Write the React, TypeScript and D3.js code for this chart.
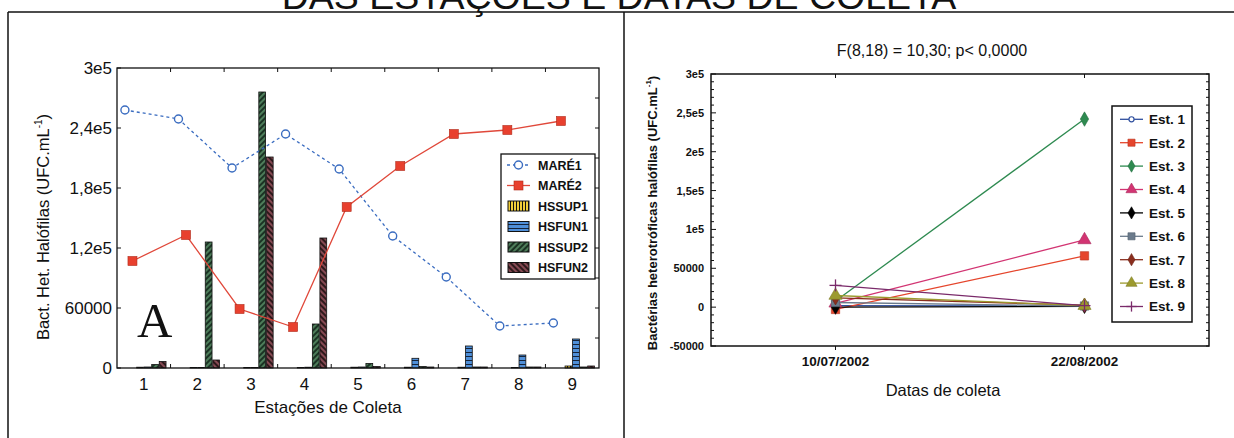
import React from 'react';
import * as d3 from 'd3';

// ---------- Left chart data ----------
const stations = ['1', '2', '3', '4', '5', '6', '7', '8', '9'];
const seriesKeys = ['MARÉ1', 'MARÉ2', 'HSSUP1', 'HSFUN1', 'HSSUP2', 'HSFUN2'];
const mare1 = [258000, 249000, 200000, 234000, 199000, 132000, 91000, 42000, 45000];
const mare2 = [107000, 133000, 59000, 41000, 161000, 202000, 234000, 238000, 247000];
const hssup1 = [800, 500, 500, 500, 800, 800, 800, 500, 2000];
const hsfun1 = [1000, 500, 500, 800, 1000, 9700, 22000, 13000, 29000];
const hssup2 = [3500, 126000, 276000, 44000, 4500, 1500, 1000, 1000, 1000];
const hsfun2 = [6500, 8000, 211000, 130000, 1500, 1000, 1000, 1000, 2000];
const leftYTicks = [0, 60000, 120000, 180000, 240000, 300000];
const leftYTickLabels = ['0', '60000', '1,2e5', '1,8e5', '2,4e5', '3e5'];

// ---------- Right chart data ----------
const dates = ['10/07/2002', '22/08/2002'];
const estNames = ['Est. 1', 'Est. 2', 'Est. 3', 'Est. 4', 'Est. 5', 'Est. 6', 'Est. 7', 'Est. 8', 'Est. 9'];
const estStart = [2000, -3000, 8000, 5000, 0, 6000, 12000, 15000, 28000];
const estEnd = [1500, 66000, 242000, 86500, 1000, 1500, 2500, 2000, 2000];
const rightYTicks = [-50000, 0, 50000, 100000, 150000, 200000, 250000, 300000];
const rightYTickLabels = ['-50000', '0', '50000', '1e5', '1,5e5', '2e5', '2,5e5', '3e5'];

const SANS = '"Liberation Sans", Arial, Helvetica, sans-serif';
const SERIF = '"Liberation Serif", "Times New Roman", serif';

const barSeries = [
  { key: 'HSSUP1', values: hssup1, fill: 'url(#pSup1)' },
  { key: 'HSFUN1', values: hsfun1, fill: 'url(#pFun1)' },
  { key: 'HSSUP2', values: hssup2, fill: 'url(#pSup2)' },
  { key: 'HSFUN2', values: hsfun2, fill: 'url(#pFun2)' },
];

const estStyles = [
  { color: '#2f4f9e', shape: 'circle' },
  { color: '#e5452c', shape: 'square' },
  { color: '#2e8a50', shape: 'diamond' },
  { color: '#d23472', shape: 'triangle' },
  { color: '#000000', shape: 'diamond' },
  { color: '#6b7b8c', shape: 'square' },
  { color: '#8a2e1e', shape: 'diamond' },
  { color: '#9c9a2e', shape: 'triangle' },
  { color: '#7a2a6a', shape: 'plus' },
];

function Marker({ x, y, shape, color, scale = 1 }: { x: number; y: number; shape: string; color: string; scale?: number }) {
  if (shape === 'plus') {
    const s = 6 * scale;
    return (
      <g stroke={color} strokeWidth={1.3}>
        <line x1={x - s} x2={x + s} y1={y} y2={y} />
        <line x1={x} x2={x} y1={y - s} y2={y + s} />
      </g>
    );
  }
  if (shape === 'circle') {
    return <circle cx={x} cy={y} r={3 * scale} fill="white" stroke={color} strokeWidth={1.2} />;
  }
  const typ = shape === 'square' ? d3.symbolSquare : shape === 'diamond' ? d3.symbolDiamond : d3.symbolTriangle;
  const size = (shape === 'square' ? 70 : shape === 'diamond' ? 60 : 75) * scale * scale;
  const p = d3.symbol().type(typ).size(size)() as string;
  return <path d={p} transform={`translate(${x},${y})`} fill={color} stroke={d3.color(color)!.darker(0.6).toString()} strokeWidth={0.6} />;
}

export default function App() {
  // ----- left scales -----
  const x0 = d3.scaleBand<string>().domain(stations).range([117, 599]).padding(0);
  const x1 = d3.scaleBand<string>().domain(seriesKeys).range([0, x0.bandwidth()]).paddingInner(0.1).paddingOuter(0.6);
  const yL = d3.scaleLinear().domain([0, 300000]).range([368, 68]);
  const slotX = (st: string, key: string) => (x0(st) as number) + (x1(key) as number) + x1.bandwidth() / 2;

  const lineGen = d3.line<[number, number]>().x((d) => d[0]).y((d) => d[1]);
  const m1pts: [number, number][] = stations.map((s, i) => [slotX(s, 'MARÉ1'), yL(mare1[i])]);
  const m2pts: [number, number][] = stations.map((s, i) => [slotX(s, 'MARÉ2'), yL(mare2[i])]);

  // ----- right scales -----
  const xR = d3.scalePoint<string>().domain(dates).range([711, 1209]).padding(0.5);
  const yR = d3.scaleLinear().domain([-50000, 300000]).range([346, 74]);
  const minorR = d3.range(-50000, 300001, 10000);

  const leftLegendY = [165, 185.5, 206, 226.5, 247, 267.5];

  return (
    <svg width={1234} height={438} style={{ position: 'absolute', left: 0, top: 0, display: 'block', background: 'white' }} fontFamily={SANS}>
      <defs>
        <pattern id="pSup1" patternUnits="userSpaceOnUse" width={3} height={10}>
          <rect width={3} height={10} fill="#f2cf3a" />
          <line x1={0.5} x2={0.5} y1={0} y2={10} stroke="#111" strokeWidth={1} />
        </pattern>
        <pattern id="pFun1" patternUnits="userSpaceOnUse" width={10} height={4}>
          <rect width={10} height={4} fill="#4f8fd8" />
          <line x1={0} x2={10} y1={0.5} y2={0.5} stroke="#15233a" strokeWidth={1} />
        </pattern>
        <pattern id="pSup2" patternUnits="userSpaceOnUse" width={4} height={4} patternTransform="rotate(45)">
          <rect width={4} height={4} fill="#1b3324" />
          <line x1={1} x2={1} y1={0} y2={4} stroke="#6fae7e" strokeWidth={1.2} />
        </pattern>
        <pattern id="pFun2" patternUnits="userSpaceOnUse" width={4} height={4} patternTransform="rotate(-45)">
          <rect width={4} height={4} fill="#2e191b" />
          <line x1={1} x2={1} y1={0} y2={4} stroke="#c06a78" strokeWidth={1.2} />
        </pattern>
      </defs>

      {/* outer frame */}
      <g stroke="#111" strokeWidth={1.5}>
        <line x1={8} x2={1234} y1={12} y2={12} />
        <line x1={8} x2={8} y1={12} y2={438} />
        <line x1={624} x2={624} y1={12} y2={438} />
      </g>
      <text x={619} y={9} textAnchor="middle" fontSize={37.5} fill="#111">DAS ESTAÇÕES E DATAS DE COLETA</text>

      {/* ================= LEFT CHART ================= */}
      {stations.map((st, i) =>
        barSeries.map((b) => {
          const v = b.values[i];
          return (
            <rect
              key={st + b.key}
              x={(x0(st) as number) + (x1(b.key) as number)}
              y={yL(v)}
              width={x1.bandwidth()}
              height={yL(0) - yL(v)}
              fill={b.fill}
              stroke="#111"
              strokeWidth={0.8}
            />
          );
        })
      )}
      <path d={lineGen(m1pts) as string} fill="none" stroke="#3a6cc0" strokeWidth={1.3} strokeDasharray="3,3" />
      <path d={lineGen(m2pts) as string} fill="none" stroke="#e0483a" strokeWidth={1.3} />
      {m1pts.map((p, i) => (
        <circle key={'m1' + i} cx={p[0]} cy={p[1]} r={4} fill="white" stroke="#3a6cc0" strokeWidth={1.4} />
      ))}
      {m2pts.map((p, i) => (
        <rect key={'m2' + i} x={p[0] - 4.5} y={p[1] - 4.5} width={9} height={9} fill="#e8402e" stroke="#b02a1a" strokeWidth={0.6} />
      ))}

      <rect x={117} y={68} width={482} height={300} fill="none" stroke="#111" strokeWidth={1.3} />
      <g stroke="#111" strokeWidth={1}>
        {leftYTicks.map((t) => (
          <line key={'lyt' + t} x1={117} x2={121} y1={yL(t)} y2={yL(t)} />
        ))}
        {d3.range(30000, 300000, 30000).map((t) => (
          <line key={'ryt' + t} x1={595} x2={599} y1={yL(t)} y2={yL(t)} />
        ))}
        {stations.slice(1).map((st) => (
          <g key={'xt' + st}>
            <line x1={x0(st) as number} x2={x0(st) as number} y1={68} y2={72} />
            <line x1={x0(st) as number} x2={x0(st) as number} y1={364} y2={368} />
          </g>
        ))}
      </g>
      {leftYTicks.map((t, i) => (
        <text key={'lyl' + t} x={112} y={yL(t)} dy="0.36em" textAnchor="end" fontSize={17} fill="#111">
          {leftYTickLabels[i]}
        </text>
      ))}
      {stations.map((st) => (
        <text key={'lxl' + st} x={(x0(st) as number) + x0.bandwidth() / 2} y={390} textAnchor="middle" fontSize={17} fill="#111">
          {st}
        </text>
      ))}
      <text x={328} y={413} textAnchor="middle" fontSize={17} fill="#111">Estações de Coleta</text>
      <text transform="translate(49,227) rotate(-90)" textAnchor="middle" fontSize={16.5} fill="#111">
        Bact. Het. Halófilas (UFC.mL<tspan fontSize={10} dy={-7}>-1</tspan><tspan dy={7}>)</tspan>
      </text>
      <text x={137} y={337} fontFamily={SERIF} fontSize={49} fill="#111">A</text>

      <rect x={501} y={154} width={94} height={125} fill="white" stroke="#111" strokeWidth={1.3} />
      {seriesKeys.map((k, i) => {
        const y = leftLegendY[i];
        let sym: React.ReactNode;
        if (k === 'MARÉ1') {
          sym = (
            <g>
              <line x1={507} x2={530} y1={y} y2={y} stroke="#3a6cc0" strokeWidth={1.3} strokeDasharray="3,3" />
              <circle cx={518.5} cy={y} r={4} fill="white" stroke="#3a6cc0" strokeWidth={1.4} />
            </g>
          );
        } else if (k === 'MARÉ2') {
          sym = (
            <g>
              <line x1={507} x2={530} y1={y} y2={y} stroke="#e0483a" strokeWidth={1.3} />
              <rect x={514} y={y - 4.5} width={9} height={9} fill="#e8402e" stroke="#b02a1a" strokeWidth={0.6} />
            </g>
          );
        } else {
          const b = barSeries.find((s) => s.key === k)!;
          sym = <rect x={508} y={y - 5} width={21} height={10} fill={b.fill} stroke="#111" strokeWidth={1} />;
        }
        return (
          <g key={'ll' + k}>
            {sym}
            <text x={538} y={y} dy="0.36em" fontSize={12.5} fontWeight="bold" fill="#111">{k}</text>
          </g>
        );
      })}

      {/* ================= RIGHT CHART ================= */}
      <text x={932} y={56} textAnchor="middle" fontSize={16} fill="#111">F(8,18) = 10,30; p&lt; 0,0000</text>

      {estNames.map((n, i) => (
        <line
          key={'el' + n}
          x1={xR(dates[0]) as number}
          y1={yR(estStart[i])}
          x2={xR(dates[1]) as number}
          y2={yR(estEnd[i])}
          stroke={estStyles[i].color}
          strokeWidth={1.3}
        />
      ))}
      {estNames.map((n, i) => (
        <g key={'em' + n}>
          <Marker x={xR(dates[0]) as number} y={yR(estStart[i])} shape={estStyles[i].shape} color={estStyles[i].color} />
          <Marker x={xR(dates[1]) as number} y={yR(estEnd[i])} shape={estStyles[i].shape} color={estStyles[i].color} />
        </g>
      ))}

      <rect x={711} y={74} width={498} height={272} fill="none" stroke="#111" strokeWidth={1.5} />
      <g stroke="#111" strokeWidth={1}>
        {minorR.map((t) => (
          <g key={'mr' + t}>
            <line x1={711} x2={rightYTicks.includes(t) ? 716 : 714} y1={yR(t)} y2={yR(t)} />
            <line x1={1206} x2={1209} y1={yR(t)} y2={yR(t)} />
          </g>
        ))}
        {dates.map((d) => (
          <g key={'dt' + d}>
            <line x1={xR(d) as number} x2={xR(d) as number} y1={346} y2={350} />
            <line x1={xR(d) as number} x2={xR(d) as number} y1={74} y2={78} />
          </g>
        ))}
      </g>
      {rightYTicks.map((t, i) => (
        <text key={'ryl' + t} x={704} y={yR(t)} dy="0.36em" textAnchor="end" fontSize={11} fontWeight="bold" fill="#111">
          {rightYTickLabels[i]}
        </text>
      ))}
      {dates.map((d) => (
        <text key={'rxl' + d} x={xR(d) as number} y={366} textAnchor="middle" fontSize={13.5} fontWeight="bold" fill="#111">
          {d}
        </text>
      ))}
      <text x={943} y={396} textAnchor="middle" fontSize={16.5} fill="#111">Datas de coleta</text>
      <text transform="translate(657,213) rotate(-90)" textAnchor="middle" fontSize={13} fontWeight="bold" fill="#111">
        Bactérias heterotróficas halófilas (UFC.mL<tspan fontSize={8} dy={-6}>-1</tspan><tspan dy={6}>)</tspan>
      </text>

      <rect x={1112} y={106} width={80} height={216} fill="white" stroke="#111" strokeWidth={1.5} />
      {estNames.map((n, i) => {
        const y = 119.3 + i * 23.4;
        return (
          <g key={'rl' + n}>
            <line x1={1120} x2={1143} y1={y} y2={y} stroke={estStyles[i].color} strokeWidth={1.3} />
            <Marker x={1131.5} y={y} shape={estStyles[i].shape} color={estStyles[i].color} scale={0.85} />
            <text x={1149} y={y} dy="0.36em" fontSize={13.5} fontWeight="bold" fill="#111">{n}</text>
          </g>
        );
      })}
    </svg>
  );
}
